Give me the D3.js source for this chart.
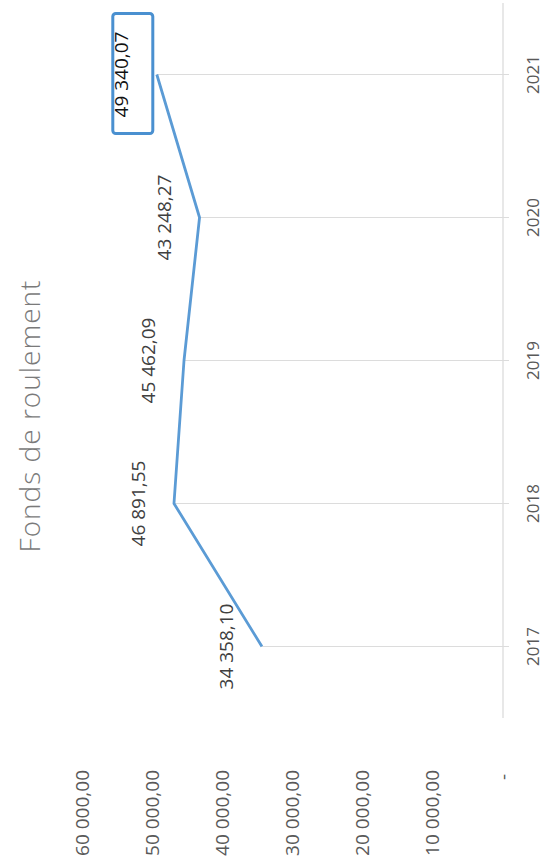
<!DOCTYPE html>
<html>
<head>
<meta charset="utf-8">
<script src="https://cdn.jsdelivr.net/npm/d3@7"></script>
<style>
  html, body { margin: 0; padding: 0; background: #ffffff; }
  svg { display: block; }
  text { font-family: "Open Sans", "Noto Sans", sans-serif; }
</style>
</head>
<body>
<svg id="chart" width="544" height="865"></svg>
<script>
const title = "Fonds de roulement";
const years = ["2017", "2018", "2019", "2020", "2021"];
const values = [34358.10, 46891.55, 45462.09, 43248.27, 49340.07];
const valueLabels = ["34 358,10", "46 891,55", "45 462,09", "43 248,27", "49 340,07"];
const tickValues = [0, 10000, 20000, 30000, 40000, 50000, 60000];
const tickLabels = ["-", "10 000,00", "20 000,00", "30 000,00", "40 000,00", "50 000,00", "60 000,00"];
const highlighted = "2021";

const svg = d3.select("#chart");

// The chart is shown rotated: values run right-to-left, years bottom-to-top.
const x = d3.scaleLinear().domain([0, 60000]).range([503, 82]);
const y = d3.scaleBand().domain(years).range([718, 3]).paddingInner(0).paddingOuter(0);
const yc = d => y(d) + y.bandwidth() / 2;

const data = years.map((yr, i) => ({ year: yr, value: values[i], label: valueLabels[i] }));

// category axis line (at value 0)
svg.append("line")
  .attr("x1", x(0)).attr("x2", x(0))
  .attr("y1", y.range()[1]).attr("y2", y.range()[0])
  .attr("stroke", "#d9d9d9").attr("stroke-width", 1.2);

// drop lines
svg.append("g").selectAll("line").data(data).join("line")
  .attr("x1", d => x(d.value)).attr("x2", x(0) + 6)
  .attr("y1", d => yc(d.year)).attr("y2", d => yc(d.year))
  .attr("stroke", "#dcdcdc").attr("stroke-width", 1.2);

// value tick labels (rotated)
const tickG = svg.append("g");
tickValues.forEach((v, i) => {
  const isZero = v === 0;
  tickG.append("text")
    .attr("transform", `translate(${x(v)},${isZero ? 777 : 770}) rotate(-90)`)
    .attr("text-anchor", isZero ? "middle" : "end")
    .attr("dy", "0.35em")
    .attr("font-size", 19)
    .attr("fill", "#595959")
    .text(tickLabels[i]);
});

// year labels
svg.append("g").selectAll("text").data(years).join("text")
  .attr("transform", d => `translate(533,${yc(d)}) rotate(-90)`)
  .attr("text-anchor", "middle")
  .attr("dy", "0.35em")
  .attr("font-size", 17)
  .attr("fill", "#595959")
  .text(d => d);

// line
const line = d3.line().x(d => x(d.value)).y(d => yc(d.year));
svg.append("path").datum(data)
  .attr("d", line)
  .attr("fill", "none")
  .attr("stroke", "#5b9bd5")
  .attr("stroke-width", 2.8)
  .attr("stroke-linejoin", "round");

// data labels
svg.append("g").selectAll("text").data(data).join("text")
  .attr("transform", d => `translate(${x(d.value) - 29},${yc(d.year)}) rotate(-90)`)
  .attr("text-anchor", "middle")
  .attr("font-size", 19)
  .attr("fill", d => d.year === highlighted ? "#111111" : "#404040")
  .text(d => d.label);

// highlight box around the last label
const hd = data.find(d => d.year === highlighted);
svg.append("rect")
  .attr("x", x(hd.value) - 44).attr("y", yc(hd.year) - 61)
  .attr("width", 40).attr("height", 120)
  .attr("rx", 3)
  .attr("fill", "none")
  .attr("stroke", "#4a90d0")
  .attr("stroke-width", 3);

// title
svg.append("text")
  .attr("transform", "translate(40,416) rotate(-90)")
  .attr("text-anchor", "middle")
  .attr("font-size", 28)
  .attr("font-weight", 300)
  .attr("fill", "#7a7a7a")
  .attr("letter-spacing", 1)
  .text(title);
</script>
</body>
</html>
